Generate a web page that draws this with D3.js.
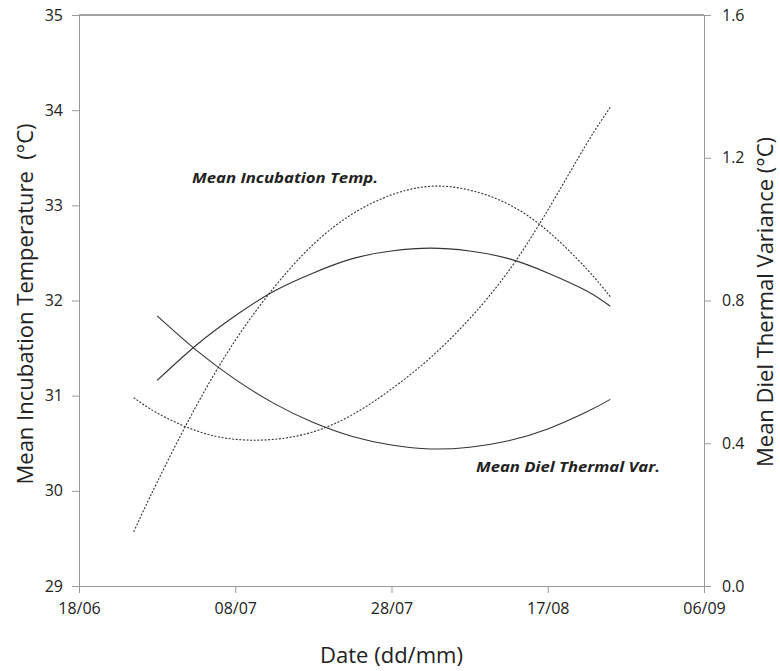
<!DOCTYPE html>
<html>
<head>
<meta charset="utf-8">
<script src="https://cdnjs.cloudflare.com/ajax/libs/d3/7.8.5/d3.min.js"></script>
<style>
  body { margin: 0; background: #fff; }
  text { font-family: "Open Sans", "Noto Sans", sans-serif; fill: #222; }
</style>
</head>
<body>
<div id="plotContainer"></div>
<script>
// values
// mean incubation temperature (left axis, deg C)
const tempSolidDates = ["2013-06-28","2013-07-03","2013-07-08","2013-07-13","2013-07-18","2013-07-23","2013-07-28","2013-08-02","2013-08-07","2013-08-12","2013-08-17","2013-08-22","2013-08-25"];
const tempSolid = [31.16, 31.53, 31.84, 32.10, 32.29, 32.44, 32.52, 32.55, 32.52, 32.44, 32.29, 32.10, 31.94];
const tempDottedDates = ["2013-06-25","2013-06-28","2013-07-03","2013-07-08","2013-07-13","2013-07-18","2013-07-23","2013-07-28","2013-08-02","2013-08-07","2013-08-12","2013-08-17","2013-08-22","2013-08-25"];
const tempDotted = [29.57, 30.09, 30.89, 31.58, 32.14, 32.59, 32.91, 33.11, 33.20, 33.16, 33.01, 32.73, 32.33, 32.04];

// mean diel thermal variance (right axis, deg C)
const varSolidDates = tempSolidDates;
const varSolid = [0.757, 0.661, 0.579, 0.511, 0.458, 0.419, 0.395, 0.384, 0.389, 0.407, 0.440, 0.488, 0.523];
const varDottedDates = tempDottedDates;
const varDotted = [0.528, 0.485, 0.435, 0.411, 0.411, 0.432, 0.480, 0.552, 0.640, 0.749, 0.883, 1.053, 1.240, 1.341];

const xTicks = ["2013-06-18","2013-07-08","2013-07-28","2013-08-17","2013-09-06"];
const leftTicks = [29, 30, 31, 32, 33, 34, 35];
const rightTicks = [0.0, 0.4, 0.8, 1.2, 1.6];

const margin = {top: 15, right: 76, bottom: 85, left: 79},
    width = 780 - margin.left - margin.right,
    height = 671 - margin.top - margin.bottom;

const parse = d3.timeParse("%Y-%m-%d");

const svg = d3.select("#plotContainer")
  .append("svg")
    .attr("width", 780)
    .attr("height", 671)
  .append("g")
    .attr("transform", `translate(${margin.left},${margin.top})`);

const x = d3.scaleTime()
  .domain([parse(xTicks[0]), parse(xTicks[xTicks.length - 1])])
  .range([0, width]);
const yL = d3.scaleLinear().domain([29, 35]).range([height, 0]);
const yR = d3.scaleLinear().domain([0, 1.6]).range([height, 0]);

// top border of plot area
svg.append("line")
  .attr("x1", 0).attr("x2", width).attr("y1", 0).attr("y2", 0)
  .attr("stroke", "#444").attr("stroke-width", 1);

function styleAxis(g) {
  g.select(".domain").attr("stroke", "#999");
  g.selectAll(".tick line").attr("stroke", "#999");
  g.selectAll(".tick text")
    .style("font-family", '"Open Sans", sans-serif')
    .style("font-size", "16px")
    .attr("fill", "#222");
}

svg.append("g")
  .attr("transform", `translate(0, ${height})`)
  .call(d3.axisBottom(x)
    .tickValues(xTicks.map(parse))
    .tickFormat(d3.timeFormat("%d/%m"))
    .tickSizeOuter(0).tickSize(7).tickPadding(10))
  .call(styleAxis);

svg.append("g")
  .call(d3.axisLeft(yL).tickValues(leftTicks).tickFormat(d3.format("d"))
    .tickSizeOuter(0).tickSize(7).tickPadding(9))
  .call(styleAxis);

svg.append("g")
  .attr("transform", `translate(${width}, 0)`)
  .call(d3.axisRight(yR).tickValues(rightTicks).tickFormat(d3.format(".1f"))
    .tickSizeOuter(0).tickSize(7).tickPadding(11))
  .call(styleAxis);

function drawLine(dates, values, y, dashed) {
  const pts = dates.map((d, i) => ({date: parse(d), value: values[i]}));
  svg.append("path")
    .datum(pts)
    .attr("d", d3.line()
      .curve(d3.curveNatural)
      .x(d => x(d.date))
      .y(d => y(d.value)))
    .attr("fill", "none")
    .attr("stroke", "#333")
    .attr("stroke-width", 1.1)
    .attr("stroke-dasharray", dashed ? "2,1.6" : null);
}

drawLine(tempSolidDates, tempSolid, yL, false);
drawLine(tempDottedDates, tempDotted, yL, true);
drawLine(varSolidDates, varSolid, yR, false);
drawLine(varDottedDates, varDotted, yR, true);

// curve labels
svg.append("text")
  .attr("x", 192 - margin.left).attr("y", 183 - margin.top)
  .attr("textLength", 186).attr("lengthAdjust", "spacingAndGlyphs")
  .style("font-size", "14px").style("font-weight", "bold").style("font-style", "italic")
  .attr("fill", "#111")
  .text("Mean Incubation Temp.");

svg.append("text")
  .attr("x", 476 - margin.left).attr("y", 472 - margin.top)
  .attr("textLength", 184).attr("lengthAdjust", "spacingAndGlyphs")
  .style("font-size", "14px").style("font-weight", "bold").style("font-style", "italic")
  .attr("fill", "#111")
  .text("Mean Diel Thermal Var.");

// axis titles
svg.append("text")
  .attr("text-anchor", "middle")
  .attr("x", width / 2).attr("y", height + 77)
  .style("font-size", "22px")
  .text("Date (dd/mm)");

svg.append("text")
  .attr("text-anchor", "middle")
  .attr("transform", `translate(${33 - margin.left}, ${304 - margin.top}) rotate(-90)`)
  .style("font-size", "22px")
  .style("white-space", "pre")
  .text("Mean Incubation Temperature  (°C)");

svg.append("text")
  .attr("text-anchor", "middle")
  .attr("transform", `translate(${773 - margin.left}, ${302 - margin.top}) rotate(-90)`)
  .style("font-size", "22px")
  .text("Mean Diel Thermal Variance (°C)");
</script>
</body>
</html>
